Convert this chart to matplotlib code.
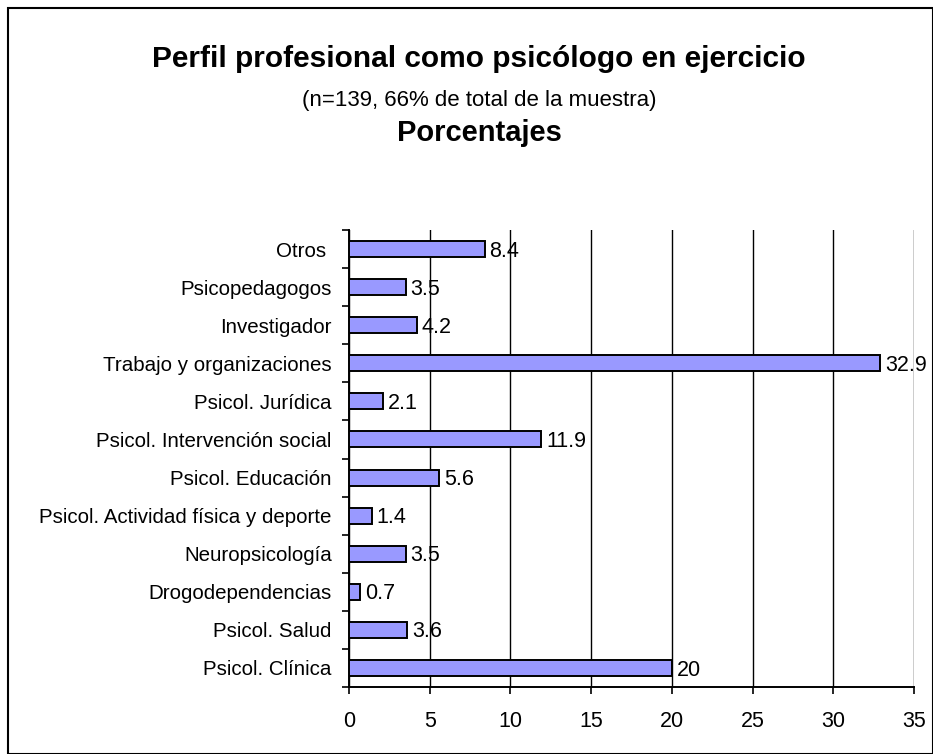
import numpy as np
import matplotlib.pyplot as plt
from matplotlib.patches import Rectangle

plt.rcParams['font.family'] = ['Liberation Sans', 'DejaVu Sans']

# datos (de abajo hacia arriba)
categorias = ["Psicol. Clínica", "Psicol. Salud", "Drogodependencias", "Neuropsicología",
              "Psicol. Actividad física y deporte", "Psicol. Educación",
              "Psicol. Intervención social", "Psicol. Jurídica", "Trabajo y organizaciones",
              "Investigador", "Psicopedagogos", "Otros "]
porcentajes = [20, 3.6, 0.7, 3.5, 1.4, 5.6, 11.9, 2.1, 32.9, 4.2, 3.5, 8.4]
etiquetas = ["20", "3.6", "0.7", "3.5", "1.4", "5.6", "11.9", "2.1", "32.9", "4.2", "3.5", "8.4"]
ticks_x = [0, 5, 10, 15, 20, 25, 30, 35]

W, H = 933, 754
fig = plt.figure(figsize=(W / 100, H / 100), dpi=100)
ax = fig.add_axes([349 / W, 1 - 687 / H, (914 - 349) / W, (687 - 230) / H])

y = np.arange(len(categorias))
ax.barh(y, porcentajes, height=0.42, color='#9999FF', edgecolor='black', linewidth=1.4, zorder=3)

for yi, v, t in zip(y, porcentajes, etiquetas):
    ax.annotate(t, (v, yi), xytext=(3.5, -1.5), textcoords='offset points',
                ha='left', va='center', fontsize=15.5, zorder=4)

ax.set_xlim(0, 35)
ax.set_ylim(-0.5, len(categorias) - 0.5)
ax.set_xticks(ticks_x)
ax.set_xticklabels([str(t) for t in ticks_x], fontsize=15.5)
ax.set_yticks(y)
ax.set_yticklabels(categorias, fontsize=14.8)
ax.set_yticks(np.arange(-0.5, len(categorias), 1), minor=True)
ax.tick_params(axis='y', which='major', length=0, pad=12.5)
ax.tick_params(axis='y', which='minor', length=5, width=1.2, direction='out')
ax.tick_params(axis='x', length=5, width=1.2, direction='out', pad=12)
ax.grid(axis='x', color='black', linewidth=1.0, zorder=0)

ax.spines['top'].set_visible(False)
ax.spines['right'].set_visible(False)
ax.spines['left'].set_linewidth(1.4)
ax.spines['bottom'].set_linewidth(1.4)

cx = 479 / W
fig.text(cx, 1 - 67 / H, "Perfil profesional como psicólogo en ejercicio",
         ha='center', va='baseline', fontsize=21.5, fontweight='bold')
fig.text(cx, 1 - 106 / H, "(n=139, 66% de total de la muestra)",
         ha='center', va='baseline', fontsize=16)
fig.text(cx, 1 - 141 / H, "Porcentajes",
         ha='center', va='baseline', fontsize=21, fontweight='bold')

# marco del gráfico
fig.patches.append(Rectangle((8 / W, 0), 1 - 8 / W, 1 - 8 / H, transform=fig.transFigure,
                             fill=False, edgecolor='black', linewidth=1.5))

fig.savefig("out.png", dpi=100)
